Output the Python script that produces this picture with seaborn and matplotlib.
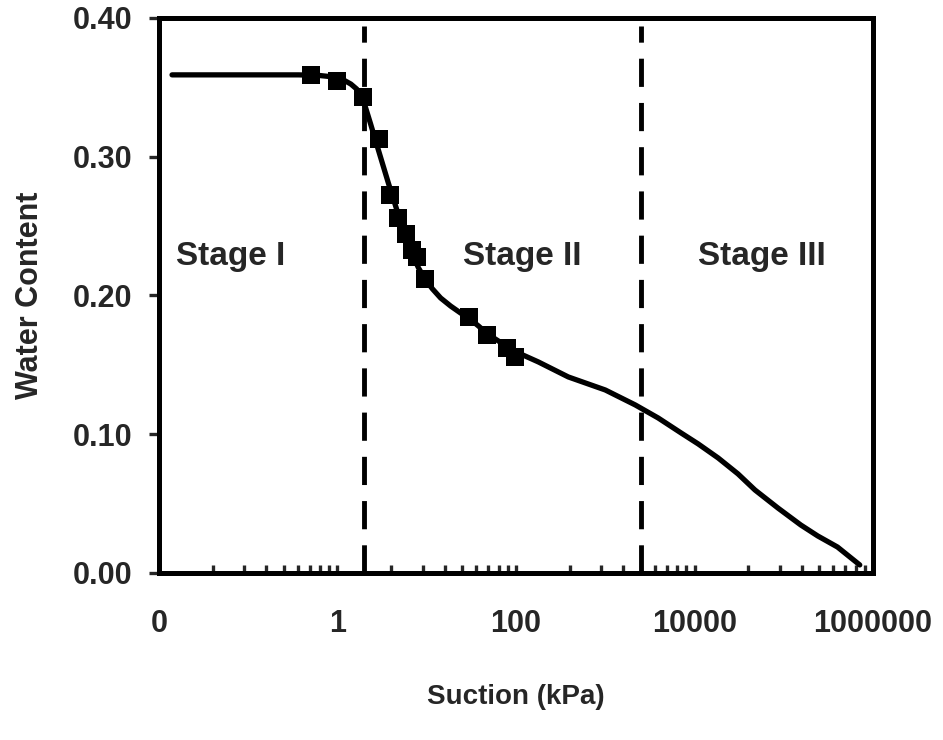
import numpy as np
import pandas as pd
import matplotlib
matplotlib.use("Agg")
import matplotlib.pyplot as plt
import seaborn as sns
from matplotlib.ticker import FixedLocator, FixedFormatter, NullFormatter

sns.set_style("white")
plt.rcParams["font.family"] = ["Liberation Sans", "DejaVu Sans"]
plt.rcParams["font.weight"] = "bold"

# measured points (squares)
suction_meas = [0.5, 1.0, 1.93, 2.94, 3.84, 4.75, 5.9, 6.9, 7.8, 9.6, 29.4, 47.9, 78.7, 97.6]
wc_meas = [0.359, 0.3546, 0.3433, 0.3126, 0.2724, 0.2556, 0.2443, 0.2328, 0.228, 0.2117,
           0.1843, 0.1715, 0.162, 0.156]

# fitted curve
suction_fit = [0.014, 0.368, 0.617, 0.906, 1.17, 1.41, 1.64, 1.87, 2.07, 2.35, 2.74, 3.2,
               3.74, 4.37, 5.09, 5.94, 6.93, 8.09, 9.7, 11.6, 14.3, 18.5, 23.9, 29.4, 38,
               47.9, 63.5, 82.2, 106, 178, 385, 1000, 2170, 3920, 7080, 11000, 18400,
               30700, 47600, 86100, 155000, 240000, 400000, 710000]
wc_fit = [0.359, 0.359, 0.3586, 0.3575, 0.3553, 0.3524, 0.3488, 0.3438, 0.3351, 0.3236,
          0.3092, 0.2948, 0.2804, 0.2667, 0.253, 0.24, 0.2292, 0.2198, 0.2112, 0.2047,
          0.1982, 0.1924, 0.1874, 0.1838, 0.178, 0.1723, 0.1672, 0.1622, 0.1586, 0.1521,
          0.1413, 0.1319, 0.1211, 0.1117, 0.1009, 0.093, 0.0829, 0.0714, 0.0598, 0.0468,
          0.0346, 0.0267, 0.0187, 0.0058]

stage_bounds = [2, 2500]
stage_names = ["Stage I", "Stage II", "Stage III"]
stage_x = [0.0155, 25.5, 11000]
stage_y = 0.228

major_ticks = [0.01, 1, 100, 10000, 1000000]
major_labels = ["0", "1", "100", "10000", "1000000"]
minor_ticks = [m * k * k for m in major_ticks[:-1] for k in range(2, 10)]

fig = plt.figure(figsize=(9.43, 7.4), dpi=100)
ax = fig.add_axes([0.1686, 0.2257, 0.7572, 0.75])

sns.lineplot(x=suction_fit, y=wc_fit, sort=False, estimator=None, color="black",
             lw=3.8, ax=ax, zorder=2)
sns.scatterplot(x=suction_meas, y=wc_meas, marker="s", s=150, color="black",
                edgecolor="black", linewidth=0, ax=ax, zorder=3)

ax.vlines(stage_bounds, 0, 0.394, colors="black", linestyles=(0, (5.8, 3.3)), lw=3.5,
          zorder=1)

for name, sx in zip(stage_names, stage_x):
    ax.text(sx, stage_y, name, fontsize=24, fontweight="bold", ha="left", va="center")

ax.set_xscale("log")
ax.set_xlim(0.01, 1000000)
ax.set_ylim(0, 0.40)
ax.xaxis.set_major_locator(FixedLocator(major_ticks))
ax.xaxis.set_major_formatter(FixedFormatter(major_labels))
ax.xaxis.set_minor_locator(FixedLocator(minor_ticks))
ax.xaxis.set_minor_formatter(NullFormatter())
ax.set_yticks([0, 0.1, 0.2, 0.3, 0.4])
ax.set_yticklabels(["0.00", "0.10", "0.20", "0.30", "0.40"])

ax.tick_params(axis="x", which="both", direction="in", length=6, width=2.4, pad=26,
               labelsize=22, bottom=True)
ax.tick_params(axis="y", direction="out", length=7, width=2.4, pad=12, labelsize=22,
               left=True)

for sp in ax.spines.values():
    sp.set_color("black")
    sp.set_linewidth(3.6)

ax.set_xlabel("Suction (kPa)", fontsize=20, fontweight="bold")
ax.set_ylabel("Water Content", fontsize=22, fontweight="bold")
ax.xaxis.set_label_coords(0.5, -0.2234)
ax.xaxis.label.set_verticalalignment("center")
ax.yaxis.set_label_coords(-0.1807, 0.5)
ax.yaxis.label.set_verticalalignment("center")

fig.savefig("out.png", dpi=100)
